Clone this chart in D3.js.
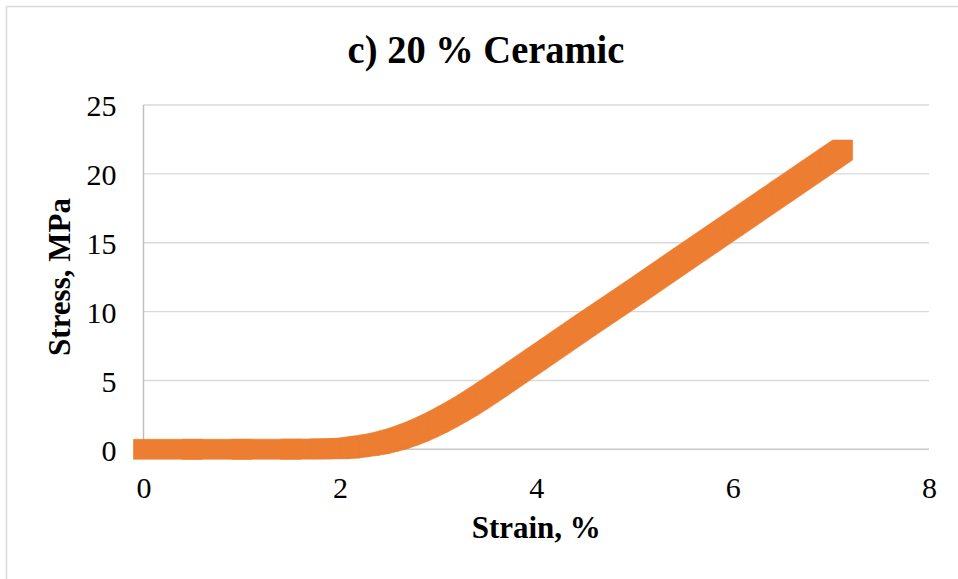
<!DOCTYPE html>
<html>
<head>
<meta charset="utf-8">
<script src="https://cdn.jsdelivr.net/npm/d3@7"></script>
<style>
  html, body { margin: 0; padding: 0; background: #fff; }
  svg { display: block; }
  text { font-family: "Times New Roman", "Liberation Serif", serif; fill: #000; }
</style>
</head>
<body>
<svg id="chart" width="958" height="579"></svg>
<script>
// Stress–strain curve for the 20 % ceramic specimen
const strain = [0, 0.5, 1.0, 1.5, 1.8, 2.0, 2.1, 2.2, 2.3, 2.4, 2.5, 2.6, 2.7, 2.8, 2.9, 3.0,
                3.1, 3.2, 3.3, 3.4, 3.5, 3.6, 3.8, 4.0, 4.5, 5.0, 5.5, 6.0, 6.5, 7.0, 7.12];
const stress = [0, 0, 0, 0.01, 0.03, 0.05, 0.1, 0.2, 0.3, 0.42, 0.6, 0.8, 1.05, 1.33, 1.65, 2.0,
                2.38, 2.78, 3.2, 3.65, 4.12, 4.6, 5.58, 6.55, 9.0, 11.4, 13.85, 16.28, 18.72, 21.15, 21.73];

const xTicks = [0, 2, 4, 6, 8];
const yTicks = [0, 5, 10, 15, 20, 25];

const chartTitle = "c) 20 % Ceramic";
const xTitle = "Strain, %";
const yTitle = "Stress, MPa";

const svg = d3.select("#chart");
const W = 958, H = 579;

const plot = { left: 143.5, right: 929, top: 105, bottom: 449.3 };

const x = d3.scaleLinear().domain([0, 8]).range([plot.left, plot.right]);
const y = d3.scaleLinear().domain([0, 25]).range([plot.bottom, plot.top]);

// Outer chart frame
svg.append("rect")
  .attr("x", 6.5).attr("y", 6.5)
  .attr("width", W + 20).attr("height", H + 20)
  .attr("fill", "#fff")
  .attr("stroke", "#d9d9d9").attr("stroke-width", 1.5);

// Horizontal gridlines
svg.append("g")
  .selectAll("line")
  .data(yTicks.filter(d => d > 0))
  .join("line")
  .attr("x1", plot.left).attr("x2", plot.right)
  .attr("y1", d => y(d)).attr("y2", d => y(d))
  .attr("stroke", "#d9d9d9").attr("stroke-width", 1.4);

// Axis lines
svg.append("line")
  .attr("x1", plot.left).attr("x2", plot.left)
  .attr("y1", plot.top).attr("y2", plot.bottom)
  .attr("stroke", "#bfbfbf").attr("stroke-width", 1.4);
svg.append("line")
  .attr("x1", plot.left).attr("x2", plot.right)
  .attr("y1", y(0)).attr("y2", y(0))
  .attr("stroke", "#c8c8c8").attr("stroke-width", 1.4);

// Y axis tick labels
const yAxis = svg.append("g")
  .attr("transform", `translate(${plot.left},0)`)
  .call(d3.axisLeft(y).tickValues(yTicks).tickSize(0).tickPadding(27).tickFormat(d3.format("d")));
yAxis.select(".domain").remove();
yAxis.selectAll("text")
  .attr("font-size", 30)
  .attr("font-family", "'Times New Roman', 'Liberation Serif', serif")
  .attr("dy", "0.36em");

// X axis tick labels
const xAxis = svg.append("g")
  .attr("transform", `translate(0,${plot.bottom})`)
  .call(d3.axisBottom(x).tickValues(xTicks).tickSize(0).tickPadding(27).tickFormat(d3.format("d")));
xAxis.select(".domain").remove();
xAxis.selectAll("text")
  .attr("font-size", 30)
  .attr("font-family", "'Times New Roman', 'Liberation Serif', serif");

// Series: dense square markers, drawn as the swept hull between neighbouring squares
const pts = strain.map((s, i) => [x(s), y(stress[i])]);
const half = 10;
const corners = p => [
  [p[0] - half, p[1] - half], [p[0] + half, p[1] - half],
  [p[0] + half, p[1] + half], [p[0] - half, p[1] + half]
];
const segs = d3.pairs(pts).map(([a, b]) => d3.polygonHull(corners(a).concat(corners(b))));
svg.append("g")
  .selectAll("path")
  .data(segs)
  .join("path")
  .attr("d", d => "M" + d.map(p => p.join(",")).join("L") + "Z")
  .attr("fill", "#ed7d31")
  .attr("stroke", "#ed7d31")
  .attr("stroke-width", 0.6);

// Titles
svg.append("text")
  .attr("transform", "translate(486,63) scale(1,1.06)")
  .attr("text-anchor", "middle")
  .attr("font-size", 38.5).attr("font-weight", "bold")
  .text(chartTitle);

svg.append("text")
  .attr("x", (plot.left + plot.right) / 2).attr("y", 538)
  .attr("text-anchor", "middle")
  .attr("font-size", 31).attr("font-weight", "bold")
  .text(xTitle);

svg.append("text")
  .attr("transform", `translate(70,277) rotate(-90)`)
  .attr("text-anchor", "middle")
  .attr("font-size", 31).attr("font-weight", "bold")
  .text(yTitle);
</script>
</body>
</html>
